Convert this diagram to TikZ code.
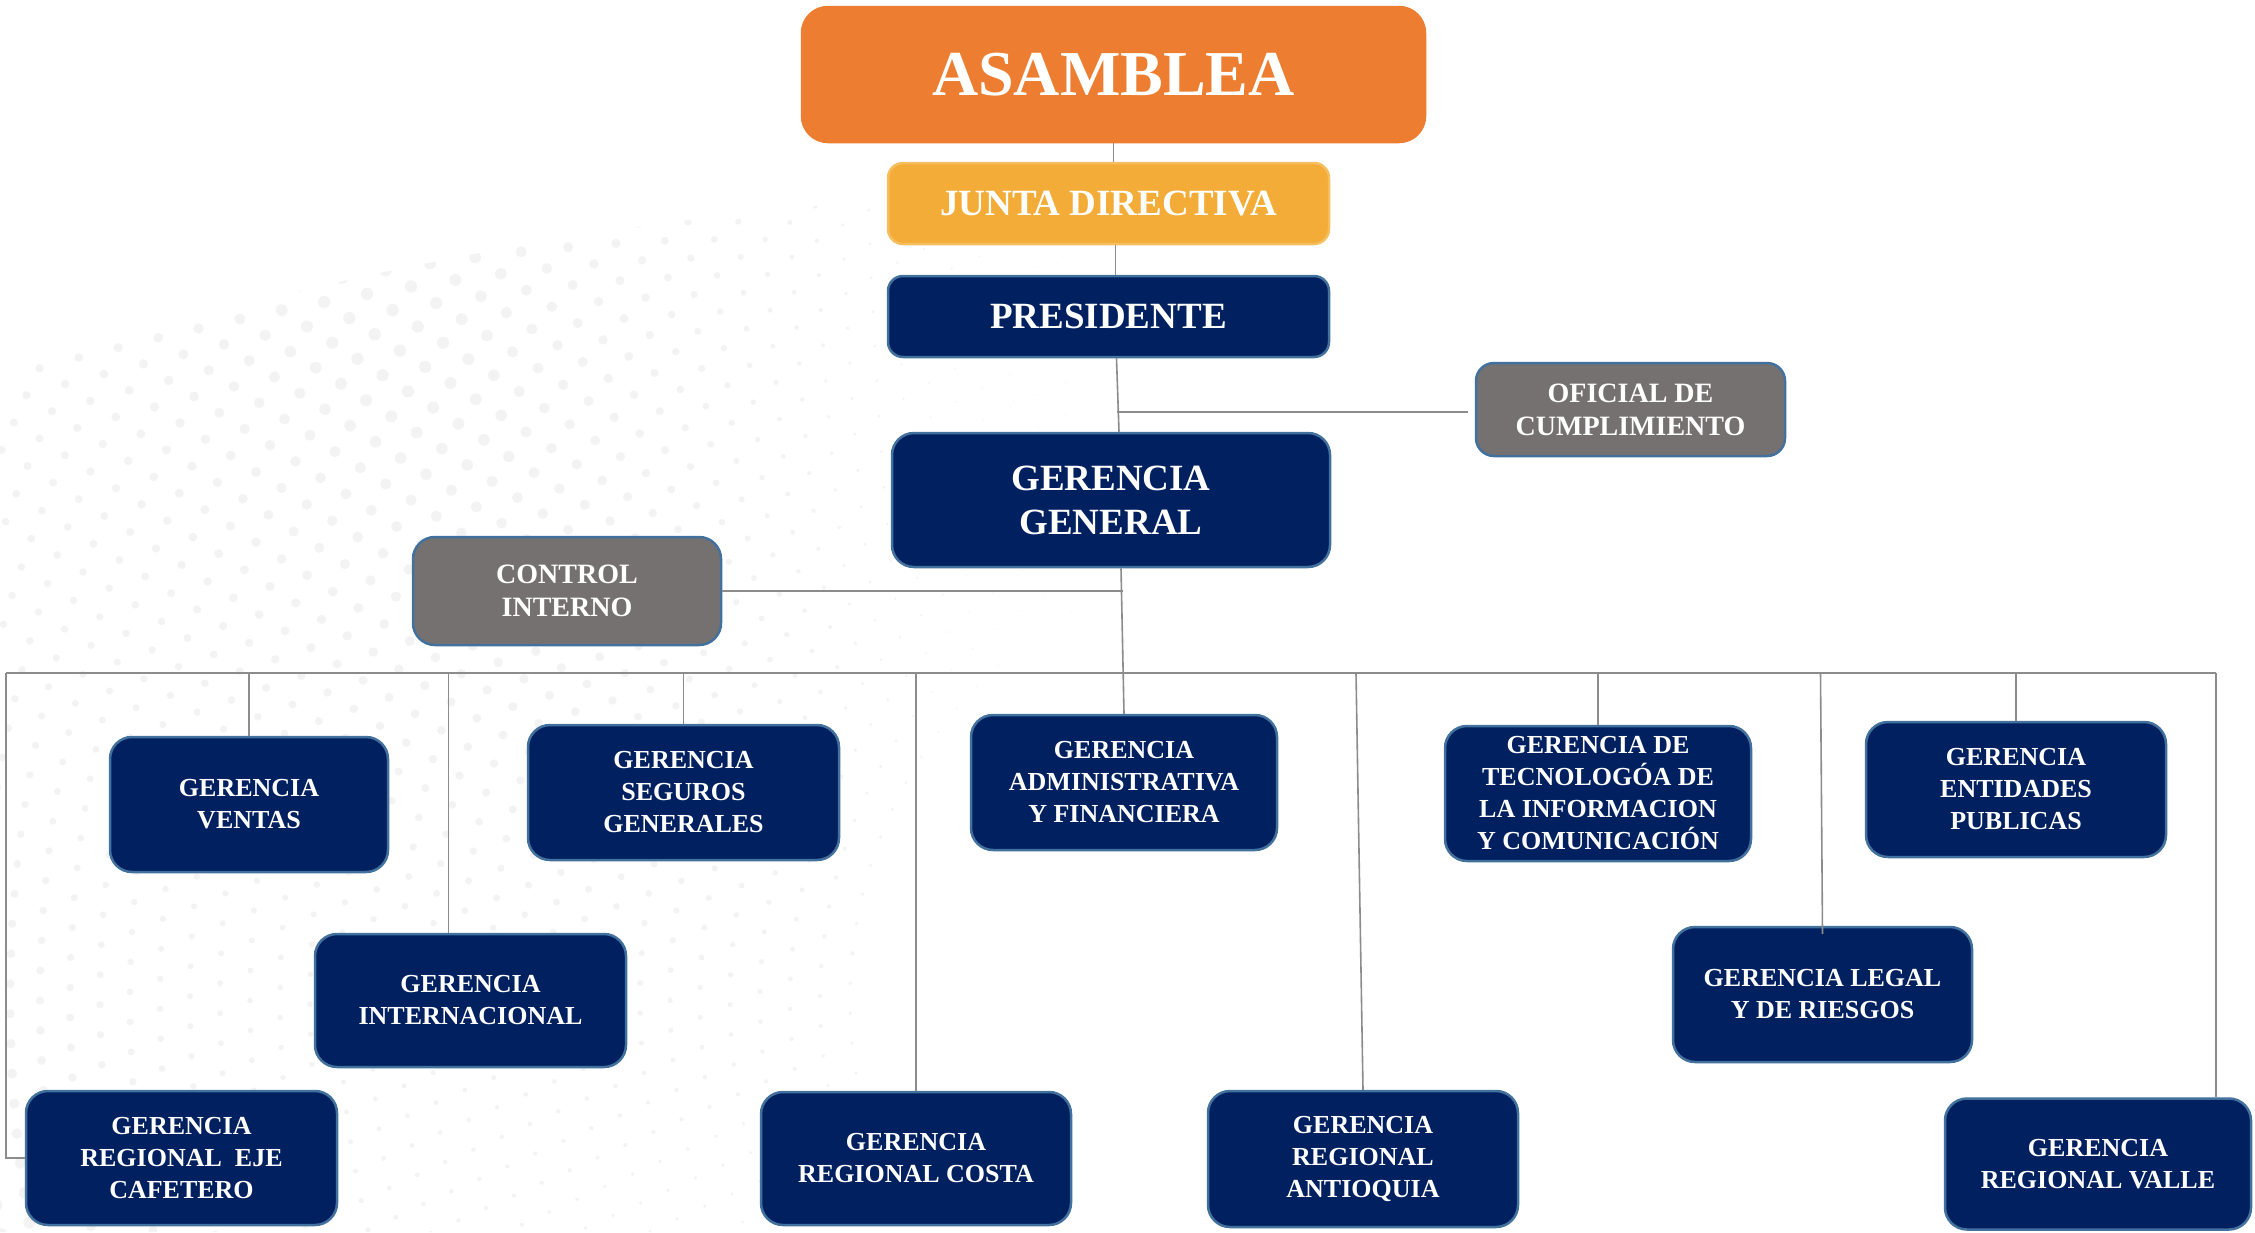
\documentclass[tikz,border=0pt]{standalone}
\usepackage{fontspec}
\setmainfont{Liberation Serif}
\usetikzlibrary{calc}
\definecolor{navyfill}{HTML}{002060}
\definecolor{boxline}{HTML}{41719C}
\definecolor{grayfill}{HTML}{767171}
\definecolor{orangefill}{HTML}{ED7D31}
\definecolor{amberfill}{HTML}{F2AC37}
\definecolor{amberline}{HTML}{F6BE5E}
\definecolor{linkgray}{HTML}{8C8C8C}
\definecolor{dotc}{HTML}{F3F3F3}
\tikzset{
  boxbase/.style={rounded corners=22pt, line width=2.5pt, text=white, align=center, inner sep=0pt},
  navybox/.style={boxbase, fill=navyfill, draw=boxline, font=\bfseries\fontsize{26}{32}\selectfont},
  graybox/.style={boxbase, fill=grayfill, draw=boxline, font=\bfseries\fontsize{28}{33}\selectfont},
  topbox/.style={boxbase, fill=navyfill, draw=boxline, font=\bfseries\fontsize{37}{44}\selectfont},
  link/.style={draw=linkgray, line width=1.6pt}
}
\begin{document}
\begin{tikzpicture}[x=1pt,y=-1pt]
\useasboundingbox (0,0) rectangle (2255,1232);
\fill[white] (0,0) rectangle (2255,1232);
% faint dotted background
\begin{scope}
\clip (0,1232) -- (0,370) .. controls (250,300) and (600,200) .. (1100,190) -- (1100,1232) -- cycle;
\foreach \r in {450,480,...,1410}{
  \pgfmathsetmacro\da{30/\r*57.3}
  \pgfmathsetmacro\second{90+\da}
  \foreach \a in {90,\second,...,205}{
    \pgfmathsetmacro\ds{(2+7*(\r-450)/960)*min(1,max(0.3,(\a-90)/55))*(0.72+0.28*sin(4*\a+\r/4))}
    \fill[dotc] ({1300+\r*cos(\a)},{1000-\r*sin(\a)}) circle (\ds);
  }
}
\end{scope}

% boxes
\node[boxbase, fill=orangefill, draw=orangefill, rounded corners=26pt,
      minimum width=623pt, minimum height=135pt,
      font=\bfseries\fontsize{64}{70}\selectfont] (asam) at (1113.5,74.5) {ASAMBLEA};
\node[boxbase, fill=amberfill, draw=amberline, rounded corners=15pt,
      minimum width=441pt, minimum height=81pt,
      font=\bfseries\fontsize{37}{44}\selectfont] (junta) at (1108.5,203.5) {JUNTA DIRECTIVA};
\node[topbox, rounded corners=15pt, minimum width=441pt, minimum height=81pt] (pres) at (1108.5,316.5) {PRESIDENTE};
\node[graybox, rounded corners=18pt, minimum width=309pt, minimum height=93pt] (ofi) at (1630.5,409.5) {OFICIAL DE\\CUMPLIMIENTO};
\node[topbox, minimum width=438pt, minimum height=134pt] (gg) at (1111,500) {GERENCIA\\GENERAL};
\node[graybox, minimum width=308pt, minimum height=108pt] (ctrl) at (567,591) {CONTROL\\INTERNO};

\node[navybox, minimum width=278pt, minimum height=135pt] (ventas) at (249,804.5) {GERENCIA\\VENTAS};
\node[navybox, minimum width=311pt, minimum height=135pt] (seguros) at (683.5,792.5) {GERENCIA\\SEGUROS\\GENERALES};
\node[navybox, minimum width=306pt, minimum height=135pt] (admin) at (1124,782.5) {GERENCIA\\ADMINISTRATIVA\\Y FINANCIERA};
\node[navybox, minimum width=306pt, minimum height=135pt] (tic) at (1598,793.5) {GERENCIA DE\\TECNOLOGÓA DE\\LA INFORMACION\\Y COMUNICACIÓN};
\node[navybox, minimum width=300pt, minimum height=135pt] (entidades) at (2016,789.5) {GERENCIA\\ENTIDADES\\PUBLICAS};
\node[navybox, minimum width=311pt, minimum height=133pt] (intl) at (470.5,1000.5) {GERENCIA\\INTERNACIONAL};
\node[navybox, minimum width=299pt, minimum height=135pt] (legal) at (1822.5,994.5) {GERENCIA LEGAL\\Y DE RIESGOS};
\node[navybox, minimum width=311pt, minimum height=134pt] (eje) at (181.5,1158) {GERENCIA\\REGIONAL\ \ EJE\\CAFETERO};
\node[navybox, minimum width=310pt, minimum height=133pt] (costa) at (916,1158.5) {GERENCIA\\REGIONAL COSTA};
\node[navybox, minimum width=310pt, minimum height=136pt] (antioquia) at (1363,1159) {GERENCIA\\REGIONAL\\ANTIOQUIA};
\node[navybox, minimum width=306pt, minimum height=131pt] (valle) at (2098,1164) {GERENCIA\\REGIONAL VALLE};

% junction coordinates
\coordinate (ofj) at (1117,412);
\coordinate (ctj) at (1123,591);
\coordinate (busL) at (6,673);
\coordinate (busR) at (2216,673);

% connectors
\draw[link] (asam.south) -- (asam.south |- junta.north);
\draw[link] ([xshift=7pt]junta.south) -- ([xshift=7pt]junta.south |- pres.north);
\draw[link] ([xshift=8pt]pres.south) -- ([xshift=8pt]gg.north);
\draw[link] (ofj) -- ([xshift=-7pt]ofi.west |- ofj);
\draw[link] (ctrl.east |- ctj) -- (ctj);
\draw[link] ([xshift=10pt]gg.south) -- (admin.north);
\draw[link] (busL) -- (busR);
\draw[link] (busL) |- (eje.west);
\draw[link] (busR) -- (busR |- valle.north);
\draw[link] (ventas.north |- busL) -- (ventas.north);
\draw[link] ([xshift=-22pt]intl.north |- busL) -- ([xshift=-22pt]intl.north);
\draw[link] (seguros.north |- busL) -- (seguros.north);
\draw[link] (costa.north |- busL) -- (costa.north);
\draw[link] ([xshift=-7pt]antioquia.north |- busL) -- (antioquia.north);
\draw[link] (tic.north |- busL) -- (tic.north);
\draw[link] ([xshift=-2pt]legal.north |- busL) -- ([yshift=-8pt]legal.north);
\draw[link] (entidades.north |- busL) -- (entidades.north);
\end{tikzpicture}
\end{document}
